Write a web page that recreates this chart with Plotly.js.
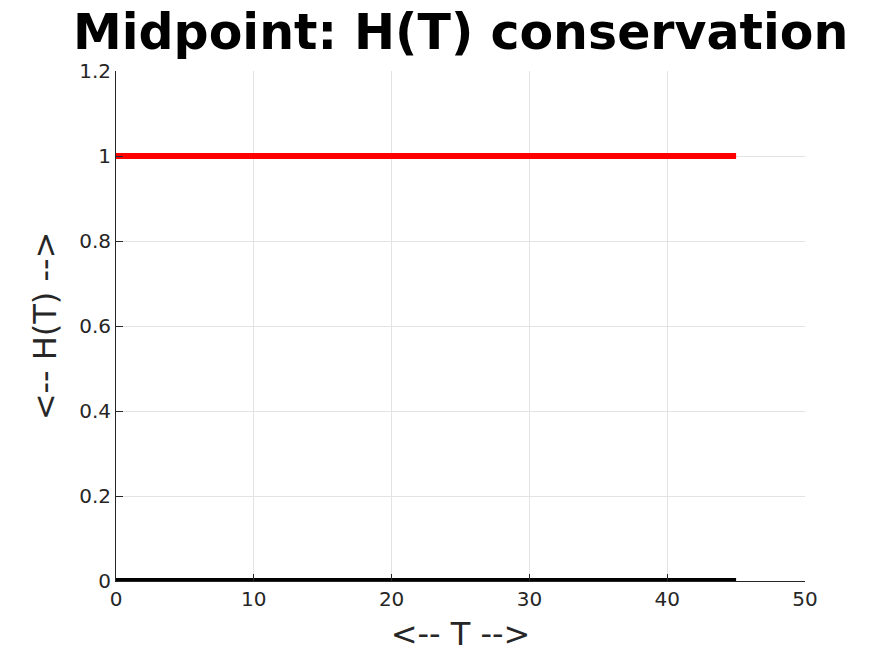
<!DOCTYPE html>
<html><head><meta charset="utf-8">
<script src="https://cdn.plot.ly/plotly-3.0.1.min.js"></script>
<style>html,body{margin:0;padding:0;background:#fff}#c{width:891px;height:656px}</style>
</head><body><div id="c"></div>
<script>
const T = [0, 5, 10, 15, 20, 25, 30, 35, 40, 45];
const H = [1, 1, 1, 1, 1, 1, 1, 1, 1, 1];
const dH = [0, 0, 0, 0, 0, 0, 0, 0, 0, 0];
const xTicks = [0, 10, 20, 30, 40, 50];
const yTicks = [0, 0.2, 0.4, 0.6, 0.8, 1, 1.2];
const yTickText = ['0', '0.2', '0.4', '0.6', '0.8', '1', '1.2'];

const traces = [
  {x: T, y: H, mode: 'lines', line: {color: '#ff0000', width: 6}, cliponaxis: false},
  {x: T, y: dH, mode: 'lines', line: {color: '#000000', width: 6}, cliponaxis: false}
];
const axisCommon = {
  showgrid: true, gridcolor: '#e3e3e3', gridwidth: 1,
  zeroline: false, showline: true, linecolor: '#262626', linewidth: 1,
  ticks: 'inside', ticklen: 7, tickcolor: '#262626',
  tickfont: {family: 'DejaVu Sans', size: 20, color: '#262626'},
  mirror: false
};
const layout = {
  width: 891, height: 656,
  paper_bgcolor: '#fff', plot_bgcolor: '#fff',
  margin: {l: 116, r: 86, t: 71, b: 75},
  showlegend: false,
  title: {text: '<b>Midpoint: H(T) conservation</b>', x: 0.517, xanchor: 'center', y: 0.951, yanchor: 'middle',
    font: {family: 'DejaVu Sans', size: 49, color: '#000'}},
  xaxis: Object.assign({}, axisCommon, {range: [0, 50], tickvals: xTicks,
    title: {text: '<-- T -->', font: {family: 'DejaVu Sans', size: 32, color: '#262626'}, standoff: 12}}),
  yaxis: Object.assign({}, axisCommon, {range: [0, 1.2], tickvals: yTicks, ticktext: yTickText,
    title: {text: '<-- H(T) -->', font: {family: 'DejaVu Sans', size: 32, color: '#262626'}, standoff: 12}})
};
Plotly.newPlot('c', traces, layout, {displayModeBar: false});
</script></body></html>
